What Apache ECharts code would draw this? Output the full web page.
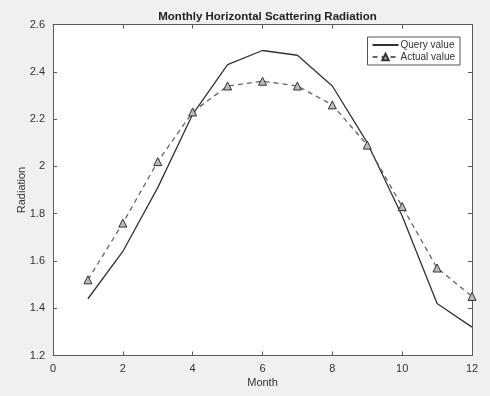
<!DOCTYPE html>
<html>
<head>
<meta charset="utf-8">
<script src="https://cdn.jsdelivr.net/npm/echarts@6/dist/echarts.min.js"></script>
<style>
  html, body { margin: 0; padding: 0; background: #f0f0f0; }
  #chart { width: 490px; height: 396px; }
</style>
</head>
<body>
<div id="chart"></div>
<script>
// monthly values
const months = [1, 2, 3, 4, 5, 6, 7, 8, 9, 10, 11, 12]
const queryValue = [1.44, 1.64, 1.91, 2.22, 2.43, 2.49, 2.47, 2.34, 2.10, 1.79, 1.42, 1.32]
const actualValue = [1.52, 1.76, 2.02, 2.23, 2.34, 2.36, 2.34, 2.26, 2.09, 1.83, 1.57, 1.45]

const font = 'Liberation Sans, Arial, sans-serif'
const axisColor = '#5a5a5a'
const textColor = '#333'

const chart = echarts.init(document.getElementById('chart'))

const pairs = vals => months.map((m, i) => [m, vals[i]])

// box axes like matlab: ticks inside, on all four sides
const boxAxis = (pos, extra) => Object.assign({
  type: 'value',
  position: pos,
  axisLine: { show: true, onZero: false, lineStyle: { color: axisColor, width: 1 } },
  axisTick: { show: true, inside: true, length: 4, lineStyle: { color: axisColor } },
  splitLine: { show: false },
  axisLabel: { show: false }
}, extra)

chart.setOption({
  backgroundColor: '#f0f0f0',
  animation: false,
  title: {
    text: 'Monthly Horizontal Scattering Radiation',
    left: 262.5,
    top: 6,
    textAlign: 'center',
    textStyle: { fontFamily: font, fontSize: 11.5, fontWeight: 'bold', color: '#222' }
  },
  legend: {
    right: 30,
    top: 37,
    orient: 'vertical',
    backgroundColor: '#fff',
    borderColor: '#555',
    borderWidth: 1,
    borderRadius: 0,
    padding: [3, 5, 3, 4],
    itemGap: 2,
    itemWidth: 26,
    itemHeight: 8,
    textStyle: { fontFamily: font, fontSize: 10, color: textColor, padding: [0, 0, 0, -3] },
    data: [
      { name: 'Query value', itemStyle: { opacity: 0 } },
      { name: 'Actual value' }
    ]
  },
  grid: {
    left: 53, right: 18, top: 24.5, bottom: 40.5,
    show: true, backgroundColor: '#fff', borderWidth: 0
  },
  xAxis: [
    boxAxis('bottom', {
      min: 0, max: 12, interval: 2,
      name: 'Month',
      nameLocation: 'middle',
      nameGap: 22,
      nameMoveOverlap: false,
      nameTextStyle: { fontFamily: font, fontSize: 11, color: textColor },
      axisLabel: { show: true, margin: 8, fontFamily: font, fontSize: 11, color: textColor }
    }),
    boxAxis('top', { min: 0, max: 12, interval: 2 })
  ],
  yAxis: [
    boxAxis('left', {
      min: 1.2, max: 2.6, interval: 0.2,
      name: 'Radiation',
      nameLocation: 'middle',
      nameGap: 26,
      nameMoveOverlap: false,
      nameTextStyle: { fontFamily: font, fontSize: 11, color: textColor },
      axisLabel: { show: true, margin: 8, fontFamily: font, fontSize: 11, color: textColor }
    }),
    boxAxis('right', { min: 1.2, max: 2.6, interval: 0.2 })
  ],
  series: [
    {
      name: 'Query value',
      type: 'line',
      data: pairs(queryValue),
      showSymbol: false,
      symbol: 'none',
      lineStyle: { color: '#333', width: 1.3 },
      itemStyle: { color: '#333' }
    },
    {
      name: 'Actual value',
      type: 'line',
      data: pairs(actualValue),
      symbol: 'triangle',
      symbolSize: 8,
      lineStyle: { color: '#666', width: 1.3, type: [5, 4] },
      itemStyle: { color: '#bbb', borderColor: '#333', borderWidth: 1 }
    }
  ]
})
</script>
</body>
</html>
